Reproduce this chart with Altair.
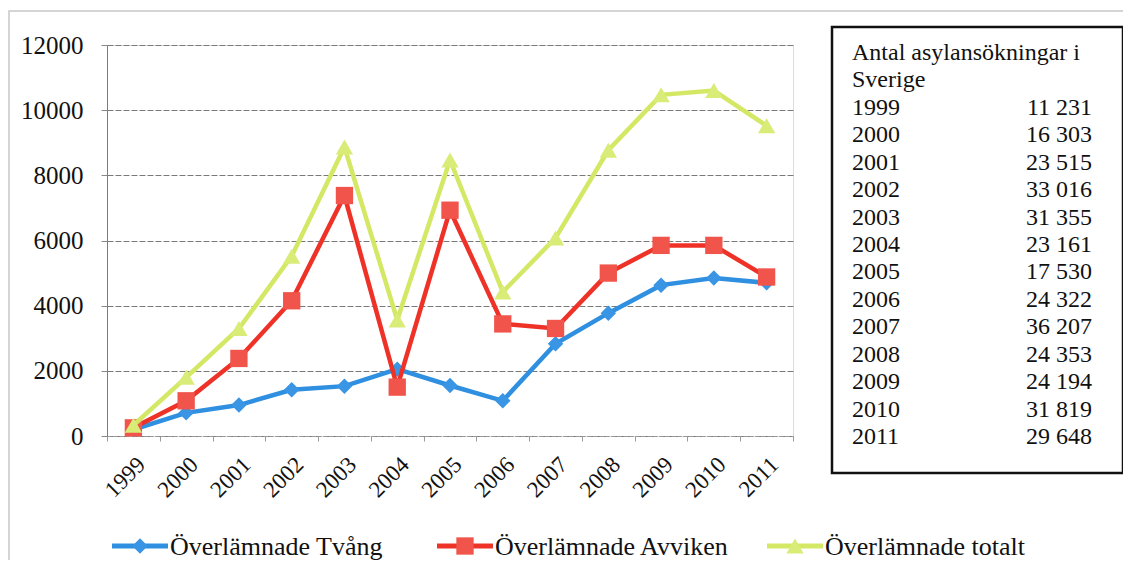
import altair as alt
import pandas as pd

years = ["1999", "2000", "2001", "2002", "2003", "2004", "2005",
         "2006", "2007", "2008", "2009", "2010", "2011"]
tvang = [200, 710, 950, 1420, 1530, 2050, 1550, 1080, 2830, 3770, 4630, 4850, 4700]
avviken = [250, 1080, 2380, 4150, 7380, 1500, 6930, 3440, 3300, 5000, 5850, 5850, 4880]
totalt = [330, 1800, 3300, 5520, 8870, 3560, 8470, 4420, 6080, 8770, 10470, 10600, 9520]

series_names = ["Överlämnade Tvång", "Överlämnade Avviken", "Överlämnade totalt"]
line_colors = ["#2f8fe0", "#ee3228", "#d4e866"]
marker_colors = ["#3a95e4", "#f0544a", "#d9ec78"]
marker_shapes = ["diamond", "square", "triangle-up"]
marker_sizes = [240, 300, 300]

table_title = ["Antal asylansökningar i", "Sverige"]
table_counts = ["11 231", "16 303", "23 515", "33 016", "31 355", "23 161", "17 530",
                "24 322", "36 207", "24 353", "24 194", "31 819", "29 648"]

FONT = "Liberation Serif"
W, H = 686, 391

rows = []
for name, vals in zip(series_names, [tvang, avviken, totalt]):
    for yr, v in zip(years, vals):
        rows.append({"year": yr, "value": v, "series": name})
df = pd.DataFrame(rows)

x_enc = alt.X("year:O", sort=years, title=None,
              scale=alt.Scale(type="band", paddingInner=0, paddingOuter=0),
              axis=alt.Axis(labelAngle=-45, labelFont=FONT, labelFontSize=23,
                            labelColor="#111", domainColor="#999", domainDash=[4, 2],
                            tickColor="#999", tickSize=5, tickBand="extent",
                            labelPadding=12, grid=False))
y_enc = alt.Y("value:Q", title=None,
              scale=alt.Scale(domain=[0, 12000], nice=False),
              axis=alt.Axis(values=[0, 2000, 4000, 6000, 8000, 10000, 12000], format="d",
                            labelFont=FONT, labelFontSize=25, labelColor="#111",
                            grid=True, gridColor="#7a7a7a", gridDash=[6, 2],
                            domainColor="#6b7f95", tickColor="#888", tickSize=6,
                            labelPadding=18))

base = alt.Chart(df)
layers = []

# outer frame
frame = alt.Chart(pd.DataFrame({"a": [0]})).mark_rect(
    fill="transparent", stroke="#c8c8c8", strokeWidth=1.5
).encode(x=alt.value(-98), x2=alt.value(1030), y=alt.value(-34), y2=alt.value(540))
layers.append(frame)

for name, lc, mc, shp, sz in zip(series_names, line_colors, marker_colors, marker_shapes, marker_sizes):
    sub = base.transform_filter(alt.datum.series == name)
    layers.append(sub.mark_line(color=lc, strokeWidth=4.5).encode(x=x_enc, y=y_enc))
    layers.append(sub.mark_point(color=mc, filled=True, opacity=1, shape=shp, size=sz)
                  .encode(x=x_enc, y=y_enc))

# table box
box = alt.Chart(pd.DataFrame({"a": [0]})).mark_rect(
    fill="white", stroke="#111", strokeWidth=2.5
).encode(x=alt.value(725), x2=alt.value(1016), y=alt.value(-18), y2=alt.value(428))

tab_labels = table_title + years
tab_values = ["", ""] + table_counts
tdf = pd.DataFrame({"idx": list(range(len(tab_labels))), "label": tab_labels, "count": tab_values})
ty = alt.Y("idx:O", axis=None, scale=alt.Scale(type="point", range=[8, 392], padding=0))
tab_left = alt.Chart(tdf).mark_text(align="left", baseline="middle", font=FONT,
                                    fontSize=24, color="#111").encode(
    x=alt.value(745), y=ty, text="label:N")
tab_right = alt.Chart(tdf).mark_text(align="right", baseline="middle", font=FONT,
                                     fontSize=24, color="#111").encode(
    x=alt.value(985), y=ty, text="count:N")

table = alt.layer(box, tab_left, tab_right)

# legend
leg_x = [5, 330, 660]
leg_y = 501
leg_layers = []
for name, lc, mc, shp, sz, lx in zip(series_names, line_colors, marker_colors, marker_shapes, marker_sizes, leg_x):
    one = alt.Chart(pd.DataFrame({"series": [name]}))
    leg_layers.append(one.mark_rule(color=lc, strokeWidth=5).encode(
        x=alt.value(lx), x2=alt.value(lx + 56), y=alt.value(leg_y)))
    leg_layers.append(one.mark_point(color=mc, filled=True, opacity=1, shape=shp, size=sz).encode(
        x=alt.value(lx + 28), y=alt.value(leg_y)))
    leg_layers.append(one.mark_text(align="left", baseline="middle", font=FONT, fontSize=26,
                                    color="#111", dy=1).encode(
        x=alt.value(lx + 58), y=alt.value(leg_y), text="series:N"))

main = alt.layer(*layers)
chart = alt.layer(main, table, *leg_layers).resolve_scale(y="independent", x="independent").properties(
    width=W, height=H,
    autosize=alt.AutoSizeParams(type="none"),
    padding={"left": 99, "top": 37, "right": 330, "bottom": 124},
).configure_view(stroke=None).configure(background="white")

chart.save("out.html", embed_options={"renderer": "svg", "actions": False})
